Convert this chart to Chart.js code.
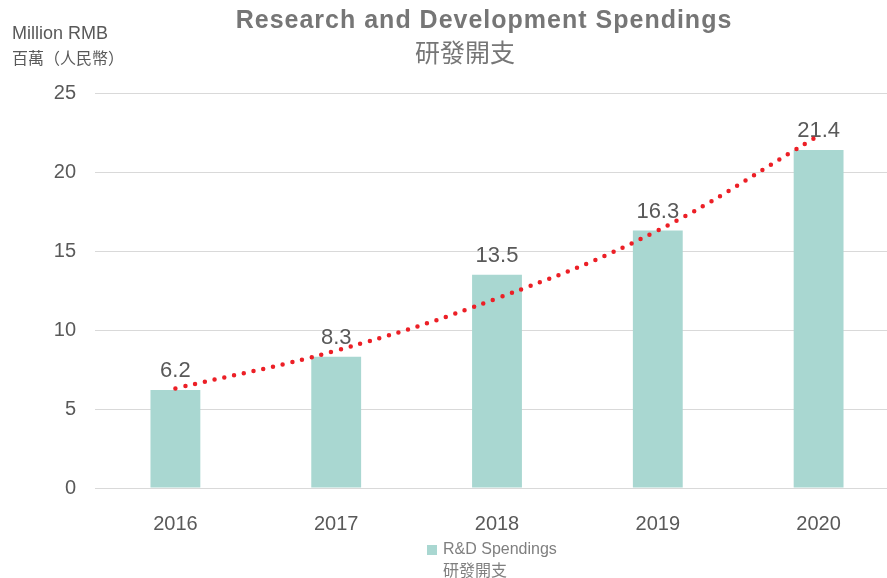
<!DOCTYPE html>
<html>
<head>
<meta charset="utf-8">
<script src="https://cdn.jsdelivr.net/npm/chart.js@4/dist/chart.umd.min.js"></script>
<style>
  html, body { margin: 0; padding: 0; background: #fff; overflow: hidden; }
  #wrap { width: 887px; height: 578px; overflow: hidden; }
</style>
</head>
<body>
<div id="wrap"><canvas id="rdChart" width="900" height="578"></canvas></div>
<script>
// Data
const years = ['2016', '2017', '2018', '2019', '2020'];
const spendings = [6.2, 8.3, 13.5, 16.3, 21.4];
const trendValues = [6.3, 8.7, 12.0, 16.3, 22.3];
const yTicks = [0, 5, 10, 15, 20, 25];
const titleLines = ['Research and Development Spendings', '研發開支'];
const unitLines = ['Million RMB', '百萬（人民幣）'];
const legendLines = ['R&D Spendings', '研發開支'];

const FONT = "'Liberation Sans', Arial, 'Noto Sans CJK TC', sans-serif";
const CJK = "'Noto Sans CJK TC', 'Liberation Sans', sans-serif";
const barColor = '#a9d7d1';
const trendColor = '#ec1f26';

// labels above bars (drawn before datasets so the dotted line sits on top)
const valueLabels = {
  id: 'valueLabels',
  beforeDatasetsDraw(chart) {
    const ctx = chart.ctx;
    const meta = chart.getDatasetMeta(0);
    ctx.save();
    ctx.font = '22px ' + FONT;
    ctx.fillStyle = '#595959';
    ctx.textAlign = 'center';
    ctx.textBaseline = 'middle';
    meta.data.forEach((bar, i) => {
      ctx.fillText(spendings[i].toFixed(1), bar.x, bar.y - 19);
    });
    ctx.restore();
  }
};

// title, unit label, legend
const decorations = {
  id: 'decorations',
  afterDraw(chart) {
    const ctx = chart.ctx;
    ctx.save();
    ctx.textBaseline = 'middle';

    ctx.fillStyle = '#767676';
    ctx.textAlign = 'center';
    ctx.font = 'bold 25px ' + FONT;
    ctx.letterSpacing = '1px';
    ctx.fillText(titleLines[0], 484, 21);
    ctx.letterSpacing = '0px';
    ctx.font = '25px ' + CJK;
    ctx.fillText(titleLines[1], 465, 52);

    ctx.textAlign = 'left';
    ctx.fillStyle = '#595959';
    ctx.font = '18px ' + FONT;
    ctx.fillText(unitLines[0], 12, 34);
    ctx.font = '16px ' + CJK;
    ctx.fillText(unitLines[1], 12, 58);

    ctx.fillStyle = barColor;
    ctx.fillRect(427, 545, 10, 10);
    ctx.fillStyle = '#7f7f7f';
    ctx.font = '16px ' + FONT;
    ctx.fillText(legendLines[0], 443, 550);
    ctx.font = '16px ' + CJK;
    ctx.fillText(legendLines[1], 443, 570);
    ctx.restore();
  }
};

const ctx = document.getElementById('rdChart').getContext('2d');
const chart = new Chart(ctx, {
  data: {
    labels: years,
    datasets: [
      {
        type: 'bar',
        label: legendLines[0],
        data: spendings,
        backgroundColor: barColor,
        barPercentage: 0.31,
        categoryPercentage: 1.0,
        order: 1
      },
      {
        type: 'line',
        label: 'Trend',
        data: trendValues,
        borderColor: trendColor,
        borderWidth: 4.5,
        borderDash: [0, 10],
        borderCapStyle: 'round',
        pointRadius: 0,
        tension: 0.4,
        fill: false,
        order: 0
      }
    ]
  },
  options: {
    responsive: false,
    animation: false,
    layout: { padding: { top: 93, right: 1, left: 0, bottom: 0 } },
    plugins: {
      legend: { display: false },
      title: { display: false },
      tooltip: { enabled: false }
    },
    scales: {
      x: {
        grid: { display: false },
        border: { display: false },
        ticks: { font: { size: 20, family: FONT }, color: '#595959', padding: 16 },
        afterFit: s => { s.height = 90; }
      },
      y: {
        min: 0,
        max: 25,
        afterBuildTicks: s => { s.ticks = yTicks.map(v => ({ value: v })); },
        grid: { color: '#d9d9d9', lineWidth: 1, drawTicks: false },
        border: { display: false },
        ticks: { font: { size: 20, family: FONT }, color: '#595959', padding: 19 },
        afterFit: s => { s.width = 95; }
      }
    }
  },
  plugins: [valueLabels, decorations]
});
</script>
</body>
</html>
